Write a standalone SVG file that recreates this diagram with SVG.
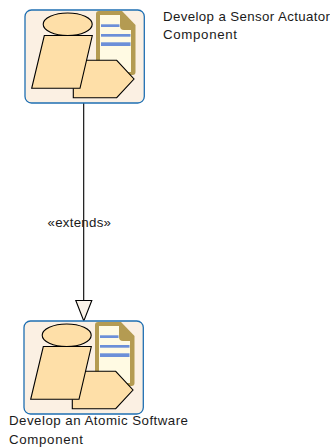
<svg xmlns="http://www.w3.org/2000/svg" width="330" height="448" viewBox="0 0 330 448">
<style>
.box{fill:#fbf0e3;stroke:#1f6fb2;stroke-width:1.3}
.s{fill:#fedfa8;stroke:#000;stroke-width:1.1;stroke-linejoin:miter}
.docb{fill:#b49b52}
.docp{fill:#fffae3}
.bar{fill:#6c8fd8}
text{font-family:"Liberation Sans",Arial,sans-serif;font-size:13.3px;fill:#1a1a1a}
.c{fill:none;stroke:#000;stroke-width:1.1}
.h{fill:#fbf3e8;stroke:#000;stroke-width:1.1}
</style>
<defs>
<g id="icon">
<rect class="box" x="25" y="10" width="119.3" height="93" rx="6.5"/>
<path class="docb" d="M96 14q0-3 3-3H122L135.500 25V72q0 3-3 3H96Z"/>
<path class="docp" d="M100 15H120V26q0 4 4 4H131V72H100Z"/>
<rect class="bar" x="101" y="24.300" width="18.500" height="2.700"/>
<rect class="bar" x="101" y="34" width="29.500" height="2.700"/>
<rect class="bar" x="101" y="42.300" width="29.500" height="3.700"/>
<ellipse class="s" cx="67.700" cy="24.300" rx="24.500" ry="11.300"/>
<path class="s" d="M73.300 88.300V97.700H116.700L134 79L116.700 60.300H73.300"/>
<path d="M73.300 60.800H86L80 88H73.300Z" fill="#fedfa8"/>
<path class="s" d="M44.300 35.500H92.300L80 88.300H31.700Z"/>
</g>
</defs>
<g id="connectors">
<path class="c" d="M83.700 103V301"/>
<path class="h" d="M75.800 300.500H91.800L83.800 321Z"/>
<text x="47.500" y="227" textLength="63.500" lengthAdjust="spacing">«extends»</text>
</g>
<g id="node-sensor">
<use href="#icon"/>
<text x="163" y="20.500" textLength="167" lengthAdjust="spacing">Develop a Sensor Actuator</text>
<text x="163" y="38.500" textLength="74" lengthAdjust="spacing">Component</text>
</g>
<g id="node-atomic">
<use href="#icon" transform="translate(-1 311)"/>
<text x="9" y="425" textLength="179" lengthAdjust="spacing">Develop an Atomic Software</text>
<text x="9" y="443.500" textLength="74" lengthAdjust="spacing">Component</text>
</g>
</svg>
